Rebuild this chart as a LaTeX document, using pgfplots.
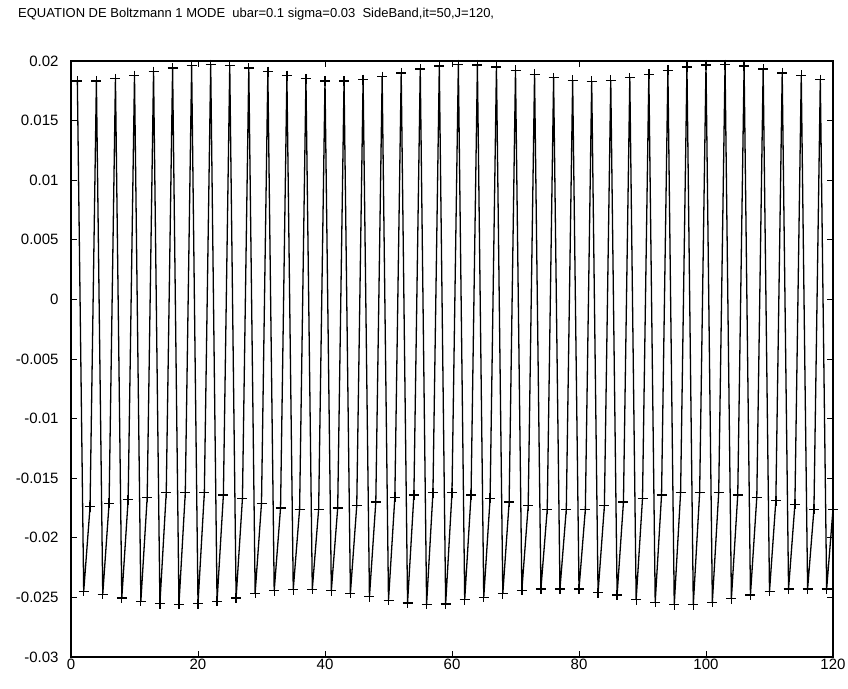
\documentclass[border=0pt]{standalone}
\usepackage{fontspec}
\setmainfont{Liberation Sans}
\usepackage{pgfplots}
\pgfplotsset{compat=1.18}
\begin{document}
\begin{tikzpicture}
\useasboundingbox (-71bp,-32bp) rectangle (777bp,657bp);
\begin{axis}[
  at={(0,0)}, anchor=south west,
  scale only axis, width=762bp, height=596bp,
  xmin=0, xmax=120, ymin=-0.03, ymax=0.02,
  xtick={0,20,40,60,80,100,120},
  xticklabels={0,20,40,60,80,100,120},
  ytick={-0.03,-0.025,-0.02,-0.015,-0.01,-0.005,0,0.005,0.01,0.015,0.02},
  yticklabels={-0.03,-0.025,-0.02,-0.015,-0.01,-0.005,0,0.005,0.01,0.015,0.02},
  scaled y ticks=false, scaled x ticks=false,
  tick align=inside, xtick pos=both, ytick pos=both,
  major tick length=6bp,
  tick style={black, line width=1bp},
  axis line style={line width=1.2bp},
  tick label style={font=\fontsize{15bp}{17bp}\selectfont},
  yticklabel style={xshift=-9bp},
  xticklabel style={yshift=1bp},
]
\addplot[black, line width=1.3bp, mark=+, mark size=5bp, mark options={line width=1.3bp}] coordinates {
(1,0.01831) (2,-0.02450) (3,-0.0174)
(4,0.01833) (5,-0.02475) (6,-0.0171)
(7,0.01851) (8,-0.02505) (9,-0.0168)
(10,0.01878) (11,-0.02533) (12,-0.0166)
(13,0.01911) (14,-0.02552) (15,-0.0162)
(16,0.01941) (17,-0.02559) (18,-0.0162)
(19,0.01962) (20,-0.02552) (21,-0.0162)
(22,0.01970) (23,-0.02533) (24,-0.0164)
(25,0.01962) (26,-0.02505) (27,-0.0167)
(28,0.01941) (29,-0.02465) (30,-0.0171)
(31,0.01911) (32,-0.02445) (33,-0.0175)
(34,0.01878) (35,-0.02434) (36,-0.0176)
(37,0.01851) (38,-0.02432) (39,-0.0176)
(40,0.01833) (41,-0.02443) (42,-0.0175)
(43,0.01831) (44,-0.02466) (45,-0.0173)
(46,0.01843) (47,-0.02495) (48,-0.0170)
(49,0.01868) (50,-0.02524) (51,-0.0166)
(52,0.01900) (53,-0.02547) (54,-0.0164)
(55,0.01932) (56,-0.02558) (57,-0.0162)
(58,0.01957) (59,-0.02556) (60,-0.0162)
(61,0.01969) (62,-0.0252) (63,-0.0164)
(64,0.01967) (65,-0.0250) (66,-0.0167)
(67,0.01949) (68,-0.0247) (69,-0.0170)
(70,0.01922) (71,-0.0244) (72,-0.0173)
(73,0.01889) (74,-0.0243) (75,-0.0176)
(76,0.01859) (77,-0.0243) (78,-0.0176)
(79,0.01838) (80,-0.0243) (81,-0.0176)
(82,0.01830) (83,-0.0246) (84,-0.0173)
(85,0.01838) (86,-0.0248) (87,-0.0170)
(88,0.01859) (89,-0.0252) (90,-0.0167)
(91,0.01889) (92,-0.0254) (93,-0.0164)
(94,0.01922) (95,-0.0256) (96,-0.0162)
(97,0.01949) (98,-0.0256) (99,-0.0162)
(100,0.01967) (101,-0.0254) (102,-0.0162)
(103,0.01969) (104,-0.0251) (105,-0.0164)
(106,0.01957) (107,-0.0248) (108,-0.0166)
(109,0.01932) (110,-0.0245) (111,-0.0169)
(112,0.01900) (113,-0.0243) (114,-0.0172)
(115,0.01880) (116,-0.0243) (117,-0.0176)
(118,0.01843) (119,-0.0243) (120,-0.0176)
};
\end{axis}
\node[anchor=west, inner sep=0pt, font=\fontsize{13bp}{15bp}\selectfont] at (-53bp,643bp)
  {EQUATION DE Boltzmann 1 MODE\ \ ubar=0.1 sigma=0.03\ \ SideBand,it=50,J=120,};
\end{tikzpicture}
\end{document}
